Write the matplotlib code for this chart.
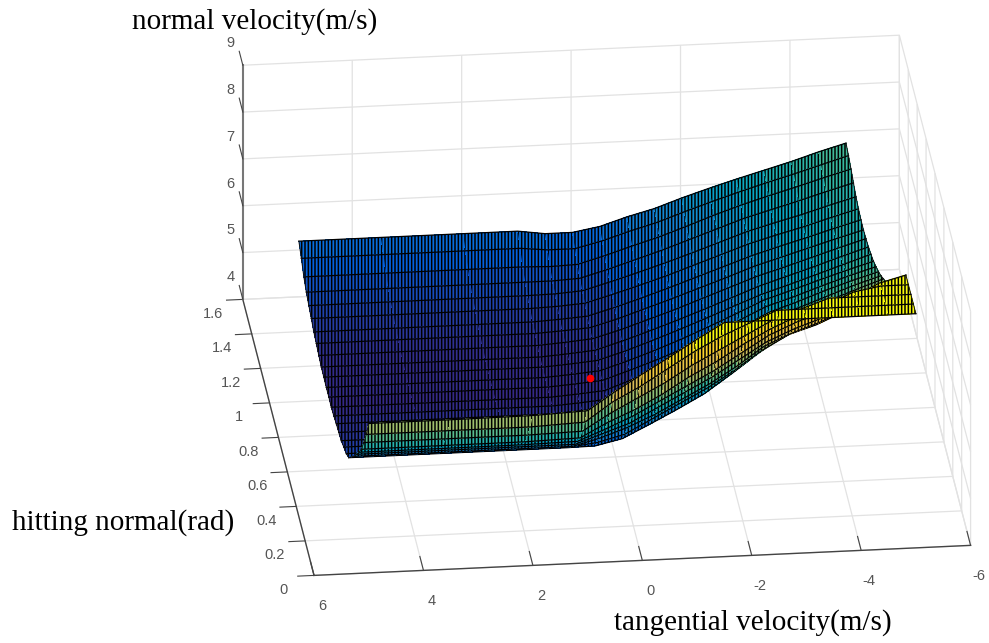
import numpy as np
import matplotlib
matplotlib.use('Agg')
import matplotlib.pyplot as plt
from matplotlib.colors import LinearSegmentedColormap, Normalize
from mpl_toolkits.mplot3d import proj3d

# tangential velocity (columns) and hitting normal (rows)
tangential = [5, 3.5, 2, 1, 0.5, 0, -0.5, -1, -1.5, -2, -2.5, -3, -3.5, -4, -4.5, -5]
hitting = [0, 0.056, 0.112, 0.168, 0.224, 0.28, 0.336, 0.392, 0.448, 0.504, 0.561, 0.617, 0.673, 0.729, 0.785,
           0.841, 0.897, 0.953, 1.01, 1.066, 1.122, 1.178, 1.234, 1.29, 1.346, 1.402, 1.458, 1.514, 1.57]

# normal velocity, one row per hitting normal
normal = [
    [7.19, 7.19, 7.20, 7.25, 7.63, 7.98, 8.32, 8.67, 9.00, 9.00, 9.00, 9.00, 9.00, 9.00, 9.00, 9.00],
    [6.75, 6.75, 6.75, 6.80, 7.20, 7.50, 7.85, 8.20, 8.50, 8.75, 9.00, 9.00, 9.00, 9.00, 9.00, 9.00],
    [6.37, 6.37, 6.37, 6.40, 6.75, 7.05, 7.35, 7.70, 8.00, 8.30, 8.60, 8.80, 9.00, 9.00, 9.00, 9.00],
    [6.02, 6.02, 6.02, 6.05, 6.35, 6.60, 6.90, 7.25, 7.55, 7.90, 8.20, 8.45, 8.65, 8.90, 9.00, 9.00],
    [5.75, 5.75, 5.75, 5.77, 6.00, 6.25, 6.55, 6.85, 7.15, 7.50, 7.85, 8.10, 8.30, 8.55, 8.85, 9.00],
    [5.50, 5.50, 5.50, 5.50, 5.70, 5.90, 6.20, 6.50, 6.80, 7.15, 7.50, 7.75, 7.95, 8.20, 8.50, 8.75],
    [5.25, 5.25, 5.25, 5.25, 5.40, 5.60, 5.85, 6.15, 6.45, 6.80, 7.20, 7.45, 7.65, 7.90, 8.15, 8.43],
    [5.03, 5.03, 5.03, 5.03, 5.10, 5.25, 5.55, 5.85, 6.15, 6.50, 6.90, 7.22, 7.40, 7.65, 7.90, 8.17],
    [4.81, 4.81, 4.81, 4.81, 4.82, 4.95, 5.23, 5.52, 5.83, 6.23, 6.65, 7.02, 7.20, 7.45, 7.65, 7.88],
    [4.69, 4.69, 4.69, 4.69, 4.72, 4.82, 5.08, 5.35, 5.65, 6.03, 6.42, 6.78, 6.98, 7.22, 7.45, 7.72],
    [4.62, 4.62, 4.62, 4.62, 4.66, 4.73, 4.97, 5.22, 5.50, 5.87, 6.25, 6.60, 6.80, 7.04, 7.27, 7.52],
    [4.55, 4.55, 4.55, 4.55, 4.60, 4.66, 4.88, 5.12, 5.38, 5.72, 6.10, 6.45, 6.65, 6.88, 7.12, 7.35],
    [4.52, 4.52, 4.52, 4.52, 4.56, 4.62, 4.82, 5.05, 5.30, 5.62, 6.00, 6.33, 6.53, 6.76, 6.98, 7.20],
    [4.50, 4.50, 4.50, 4.50, 4.54, 4.59, 4.79, 5.00, 5.25, 5.55, 5.90, 6.22, 6.42, 6.65, 6.86, 7.06],
    [4.46, 4.46, 4.46, 4.46, 4.50, 4.55, 4.76, 4.97, 5.20, 5.50, 5.82, 6.13, 6.32, 6.53, 6.74, 6.92],
    [4.44, 4.44, 4.44, 4.44, 4.48, 4.53, 4.74, 4.95, 5.17, 5.45, 5.75, 6.04, 6.23, 6.44, 6.63, 6.80],
    [4.45, 4.45, 4.45, 4.45, 4.49, 4.54, 4.73, 4.93, 5.15, 5.41, 5.69, 5.96, 6.14, 6.34, 6.53, 6.70],
    [4.45, 4.45, 4.45, 4.45, 4.49, 4.54, 4.72, 4.92, 5.14, 5.38, 5.63, 5.89, 6.07, 6.26, 6.44, 6.61],
    [4.46, 4.46, 4.46, 4.46, 4.50, 4.55, 4.72, 4.92, 5.13, 5.35, 5.58, 5.80, 5.98, 6.17, 6.36, 6.55],
    [4.47, 4.47, 4.47, 4.47, 4.51, 4.56, 4.73, 4.92, 5.12, 5.33, 5.55, 5.77, 5.95, 6.13, 6.32, 6.50],
    [4.51, 4.51, 4.51, 4.51, 4.55, 4.60, 4.76, 4.95, 5.14, 5.35, 5.56, 5.77, 5.94, 6.12, 6.30, 6.47],
    [4.56, 4.56, 4.56, 4.56, 4.59, 4.63, 4.79, 4.98, 5.17, 5.37, 5.57, 5.78, 5.95, 6.12, 6.29, 6.45],
    [4.60, 4.60, 4.60, 4.60, 4.63, 4.67, 4.83, 5.01, 5.20, 5.40, 5.60, 5.80, 5.97, 6.13, 6.30, 6.46],
    [4.68, 4.68, 4.68, 4.68, 4.70, 4.74, 4.90, 5.07, 5.25, 5.45, 5.65, 5.85, 6.01, 6.16, 6.33, 6.49],
    [4.75, 4.75, 4.75, 4.75, 4.76, 4.80, 4.96, 5.13, 5.31, 5.50, 5.70, 5.90, 6.06, 6.21, 6.38, 6.54],
    [4.83, 4.83, 4.83, 4.83, 4.83, 4.86, 5.02, 5.20, 5.38, 5.58, 5.78, 5.98, 6.14, 6.30, 6.47, 6.63],
    [4.95, 4.95, 4.95, 4.95, 4.93, 4.95, 5.11, 5.29, 5.46, 5.66, 5.87, 6.06, 6.23, 6.39, 6.56, 6.72],
    [5.14, 5.14, 5.14, 5.14, 5.08, 5.08, 5.22, 5.40, 5.56, 5.76, 5.95, 6.13, 6.30, 6.46, 6.63, 6.80],
    [5.30, 5.30, 5.30, 5.30, 5.22, 5.22, 5.32, 5.50, 5.65, 5.85, 6.03, 6.20, 6.36, 6.52, 6.70, 6.86],
]

# the red point on the surface
best_tangential = [0.2]
best_hitting = [0.93]
best_normal = [4.47]

x_ticks = [-6, -4, -2, 0, 2, 4, 6]
x_labels = ['-6', '-4', '-2', '0', '2', '4', '6']
y_ticks = [0, 0.2, 0.4, 0.6, 0.8, 1, 1.2, 1.4, 1.6]
y_labels = ['0', '0.2', '0.4', '0.6', '0.8', '1', '1.2', '1.4', '1.6']
z_ticks = [4, 5, 6, 7, 8, 9]
z_labels = ['4', '5', '6', '7', '8', '9']

parula_stops = [(0.2081, 0.1663, 0.5292), (0.0117, 0.3875, 0.8820), (0.0793, 0.5200, 0.8312),
                (0.0228, 0.6535, 0.7768), (0.2178, 0.7250, 0.6193), (0.5709, 0.7485, 0.4494),
                (0.8507, 0.7299, 0.3360), (0.9880, 0.8066, 0.1794), (0.9763, 0.9831, 0.0538)]
parula = LinearSegmentedColormap.from_list('parula', parula_stops)
norm = Normalize(4.43, 8.7, clip=True)

plt.rcParams['hatch.linewidth'] = 1.1
plt.rcParams['font.family'] = ['Liberation Sans', 'DejaVu Sans']

X, Y = np.meshgrid(tangential, hitting)
Z = np.array(normal)

W, H = 989, 643
side = 940
fig = plt.figure(figsize=(W / 100, H / 100), dpi=100)
ax = fig.add_axes([124 / W, -145 / H, side / W, side / H], projection='3d')
ax.set_proj_type('ortho')
ax.set_box_aspect((660, 659, 258), zoom=1)
ax.view_init(elev=24.9, azim=-96.2)
ax.computed_zorder = False

ax.set_xlim(6, -6, view_margin=0)
ax.set_ylim(0, 1.6, view_margin=0)
ax.set_zlim(4, 9, view_margin=0)
ax.set_xticks(x_ticks)
ax.set_yticks(y_ticks)
ax.set_zticks(z_ticks)

for axis in (ax.xaxis, ax.yaxis, ax.zaxis):
    axis.set_pane_color((1, 1, 1, 0))
    axis.pane.set_edgecolor((1, 1, 1, 0))
    axis._axinfo['grid'].update(color='#e2e2e2', linewidth=0.9)
    axis._axinfo['tick'].update(inward_factor=0)
    axis.line.set_color('#444444')
    axis.line.set_linewidth(1.0)
    for tick in axis.get_major_ticks():
        tick.label1.set_visible(False)
ax.zaxis.line.set_color('#777777')
ax.zaxis.line.set_linewidth(1.5)
# x is reversed, so mplot3d flips the tick deltas that run along it
ax.xaxis._axinfo['tick'].update(outward_factor=0.63)
ax.yaxis._axinfo['tick'].update(outward_factor=-0.31)
ax.zaxis._axinfo['tick'].update(outward_factor=0.63)
ax.zaxis._get_tickdir = lambda pos: 1
ax.tick_params(colors='#444444', width=0.9)


# tick labels sit at a fixed offset from each tick, mplot3d can't do that by itself
def tick_label(x, y, z, label):
    px, py, _ = proj3d.proj_transform(x, y, z, ax.get_proj())
    ax.text2D(px, py, label, transform=ax.transData, ha='center', va='center', fontsize=10.5, color='#555555')


for value, label in zip(x_ticks, x_labels):
    tick_label(value, -0.18, 4, label)
for value, label in zip(y_ticks, y_labels):
    tick_label(6.55, value, 3.72, label)
for value, label in zip(z_ticks, z_labels):
    tick_label(6.12, 1.73, value, label)

# rows are painted from the back to the front so the fold hides what it should
n_rows = len(hitting)
n_cols = len(tangential)
for i in range(n_rows - 2, -1, -1):
    order = 2 * (n_rows - i)
    for j in range(n_cols - 1):
        color = parula(norm(Z[i, j]))
        surf = ax.plot_surface(X[i:i + 2, j:j + 2], Y[i:i + 2, j:j + 2], Z[i:i + 2, j:j + 2],
                               color=color, shade=False, rstride=1, cstride=1, linewidth=0,
                               antialiased=False, hatch='|||||', zorder=order)
        # plot_surface gives the hatch the colour of the facet
        surf._hatch_color = (0, 0, 0, 1)
    ax.plot(X[i + 1], Y[i + 1], Z[i + 1], color='black', lw=0.9, zorder=order + 1)
    ax.plot(X[i:i + 2, 0], Y[i:i + 2, 0], Z[i:i + 2, 0], color='#111111', lw=0.7, zorder=order + 1)
    ax.plot(X[i:i + 2, -1], Y[i:i + 2, -1], Z[i:i + 2, -1], color='#111111', lw=0.7, zorder=order + 1)
ax.plot(X[0], Y[0], Z[0], color='black', lw=0.9, zorder=2 * n_rows + 2)

ax.plot(best_tangential, best_hitting, best_normal, 'o', color='red', ms=5.5, mec='none', zorder=200)

title_font = dict(family='Liberation Serif', fontsize=21, va='center', color='black')
fig.text(132 / W, 1 - 22 / H, 'normal velocity(m/s)', **title_font)
fig.text(12 / W, 1 - 523 / H, 'hitting normal(rad)', **title_font)
fig.text(614 / W, 1 - 623 / H, 'tangential velocity(m/s)', **title_font)

fig.savefig('out.png', dpi=100)
